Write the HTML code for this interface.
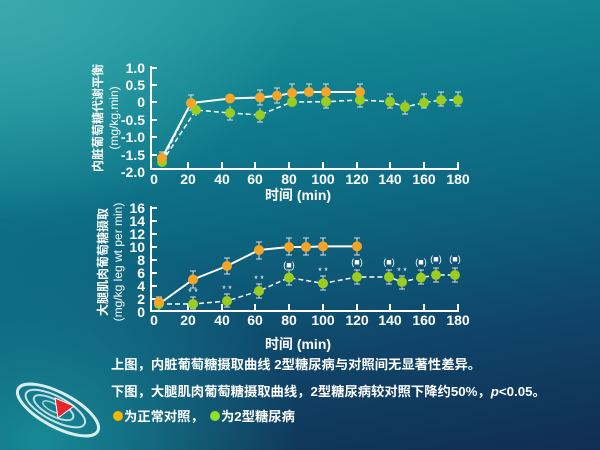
<!DOCTYPE html>
<html><head><meta charset="utf-8"><style>
html,body{margin:0;padding:0;}
body{width:600px;height:450px;overflow:hidden;position:relative;
background:radial-gradient(ellipse 260px 200px at 40px 440px,#168a96 0%,rgba(22,138,150,0) 100%),radial-gradient(ellipse 300px 220px at 0px 0px,#3aa9ad 0%,rgba(40,160,165,0) 100%),linear-gradient(170deg,#22999f 0%,#10808f 25%,#0d6580 50%,#0f4468 75%,#112d52 100%);
font-family:"Liberation Sans","Noto Sans CJK SC",sans-serif;}
svg{position:absolute;left:0;top:0;}
.t{fill:#fff;font-weight:bold;font-family:"Liberation Sans","Noto Sans CJK SC",sans-serif;}
</style></head><body>
<svg width="600" height="450" viewBox="0 0 600 450">
<g transform="translate(58,410) rotate(28)">
<ellipse cx="0" cy="0" rx="45" ry="17" fill="none" stroke="#d8eeee" stroke-width="3"/>
<ellipse cx="-3" cy="0" rx="33" ry="12" fill="none" stroke="#c8e4e6" stroke-width="2"/>
<ellipse cx="-5" cy="0" rx="22" ry="8" fill="none" stroke="#b8dcdf" stroke-width="2"/>
<ellipse cx="-6" cy="0" rx="11" ry="4" fill="none" stroke="#a8d4d8" stroke-width="1.5"/>
</g>
<polygon points="55,398 74,406 58,418" fill="#e8242c" stroke="#fff" stroke-width="1"/>

<g stroke="#fff" stroke-width="2" fill="none">
<line x1="151" y1="66" x2="151" y2="169"/>
<line x1="150" y1="169" x2="459" y2="169"/>
<line x1="151" y1="68" x2="157" y2="68"/><line x1="151" y1="85" x2="157" y2="85"/><line x1="151" y1="102" x2="157" y2="102"/><line x1="151" y1="120" x2="157" y2="120"/><line x1="151" y1="137" x2="157" y2="137"/><line x1="151" y1="155" x2="157" y2="155"/>
<line x1="188" y1="162" x2="188" y2="169"/><line x1="222" y1="162" x2="222" y2="169"/><line x1="255" y1="162" x2="255" y2="169"/><line x1="289" y1="162" x2="289" y2="169"/><line x1="323" y1="162" x2="323" y2="169"/><line x1="357" y1="162" x2="357" y2="169"/><line x1="390" y1="162" x2="390" y2="169"/><line x1="424" y1="162" x2="424" y2="169"/><line x1="458" y1="162" x2="458" y2="169"/>
</g>
<g class="t" font-size="14" text-anchor="end">
<text x="145" y="73">1.0</text><text x="145" y="90">0.5</text><text x="145" y="107">0</text><text x="145" y="125">-0.5</text><text x="145" y="142">-1.0</text><text x="145" y="160">-1.5</text><text x="145" y="177">-2.0</text>
</g>
<g class="t" font-size="14" text-anchor="middle">
<text x="154" y="184">0</text><text x="188" y="184">20</text><text x="222" y="184">40</text><text x="255" y="184">60</text><text x="289" y="184">80</text><text x="323" y="184">100</text><text x="357" y="184">120</text><text x="390" y="184">140</text><text x="424" y="184">160</text><text x="458" y="184">180</text>
<text x="298" y="200" font-size="14">时间 (min)</text>
</g>
<text class="t" font-size="12" text-anchor="middle" transform="translate(102,118) rotate(-90)">内脏葡萄糖代谢平衡</text>
<text class="t" font-size="12" text-anchor="middle" transform="translate(118,118) rotate(-90)" style="font-weight:normal">(mg/kg.min)</text>

<g stroke="#ddd" stroke-width="1">
<path d="M162,152v12M159,152h6M159,164h6 M191,95v15M188,95h6M188,110h6 M196,103v13 M230,106v14M227,120h6 M260,90v15M257,90h6M257,105h6 M260,108v14M257,122h6 M277,88v15M274,88h6M274,103h6 M292,84v14M289,84h6 M309,84v12M306,84h6 M326,84v12M323,84h6 M326,96v12M323,108h6 M360,84v16M357,84h6M357,100h6 M360,93v14M357,107h6 M390,94v14M387,94h6M387,108h6 M405,100v14M402,114h6 M424,94v14M421,94h6M421,108h6 M441,92v14M438,92h6M438,106h6 M458,92v14M455,92h6M455,106h6"/>
</g>
<polyline points="162,158 191,103 230,98.5 260,97.5 277,95.8 292,93 309,92 326,92 360,92" fill="none" stroke="#fff" stroke-width="2"/>
<polyline points="162,162 196,110 230,113 260,115 292,102 326,101.7 360,100 390,101.7 405,107 424,102.7 441,100 458,100" fill="none" stroke="#fff" stroke-width="1.5" stroke-dasharray="5,3"/>
<polyline points="162,162 191,103" fill="none" stroke="#fff" stroke-width="1" stroke-dasharray="4,3"/>
<g fill="#9acd1e">
<circle cx="162" cy="162" r="5"/><circle cx="196" cy="110" r="5"/><circle cx="230" cy="113" r="5"/><circle cx="260" cy="115" r="5"/><circle cx="292" cy="102" r="5"/><circle cx="326" cy="101.7" r="5"/><circle cx="360" cy="100" r="5"/><circle cx="390" cy="101.7" r="5"/><circle cx="405" cy="107" r="5"/><circle cx="424" cy="102.7" r="5"/><circle cx="441" cy="100" r="5"/><circle cx="458" cy="100" r="5"/>
</g>
<g fill="#f5a526">
<circle cx="162" cy="158" r="5"/><circle cx="191" cy="103" r="5"/><circle cx="230" cy="98.5" r="5"/><circle cx="260" cy="97.5" r="5"/><circle cx="277" cy="95.8" r="5"/><circle cx="292" cy="93" r="5"/><circle cx="309" cy="92" r="5"/><circle cx="326" cy="92" r="5"/><circle cx="360" cy="92" r="5"/>
</g>

<g stroke="#fff" stroke-width="2" fill="none">
<line x1="151" y1="206" x2="151" y2="311"/>
<line x1="150" y1="311" x2="459" y2="311"/>
<line x1="151" y1="208" x2="157" y2="208"/><line x1="151" y1="221" x2="157" y2="221"/><line x1="151" y1="234" x2="157" y2="234"/><line x1="151" y1="247" x2="157" y2="247"/><line x1="151" y1="260" x2="157" y2="260"/><line x1="151" y1="273" x2="157" y2="273"/><line x1="151" y1="286" x2="157" y2="286"/><line x1="151" y1="299" x2="157" y2="299"/>
<line x1="188" y1="304" x2="188" y2="311"/><line x1="222" y1="304" x2="222" y2="311"/><line x1="255" y1="304" x2="255" y2="311"/><line x1="289" y1="304" x2="289" y2="311"/><line x1="323" y1="304" x2="323" y2="311"/><line x1="357" y1="304" x2="357" y2="311"/><line x1="390" y1="304" x2="390" y2="311"/><line x1="424" y1="304" x2="424" y2="311"/><line x1="458" y1="304" x2="458" y2="311"/>
</g>
<g class="t" font-size="14" text-anchor="end">
<text x="145" y="213">16</text><text x="145" y="226">14</text><text x="145" y="239">12</text><text x="145" y="252">10</text><text x="145" y="265">8</text><text x="145" y="278">6</text><text x="145" y="291">4</text><text x="145" y="304">2</text><text x="145" y="317">0</text>
</g>
<g class="t" font-size="14" text-anchor="middle">
<text x="154" y="325">0</text><text x="188" y="325">20</text><text x="222" y="325">40</text><text x="255" y="325">60</text><text x="289" y="325">80</text><text x="323" y="325">100</text><text x="357" y="325">120</text><text x="390" y="325">140</text><text x="424" y="325">160</text><text x="458" y="325">180</text>
<text x="298" y="349">时间 (min)</text>
</g>
<text class="t" font-size="12" text-anchor="middle" transform="translate(107,262) rotate(-90)">大腿肌肉葡萄糖摄取</text>
<text class="t" font-size="12" text-anchor="middle" transform="translate(122,262) rotate(-90)" style="font-weight:normal">(mg/kg leg wt per min)</text>

<g stroke="#ddd" stroke-width="1">
<path d="M159,297v14M156,297h6 M193,271v17M190,271h6M190,288h6 M227,258v16M224,258h6M224,274h6 M259,242v17M256,242h6M256,259h6 M289,238v17M286,238h6M286,255h6 M306,238v17M303,238h6M303,255h6 M323,238v17M320,238h6M320,255h6 M357,238v17M354,238h6M354,255h6
M193,297v12M190,297h6M190,309h6 M227,294v13M224,294h6M224,307h6 M259,284v14M256,284h6M256,298h6 M289,270v15M286,270h6M286,285h6 M323,276v14M320,276h6M320,290h6 M357,270v14M354,270h6M354,284h6 M389,270v14M386,270h6M386,284h6 M402,276v13M399,276h6M399,289h6 M421,270v14M418,270h6M418,284h6 M436,268v14M433,268h6M433,282h6 M455,268v14M452,268h6M452,282h6"/>
</g>
<polyline points="159,304 193,279.5 227,266 259,250 289,247 306,247 323,246.4 357,246.4" fill="none" stroke="#fff" stroke-width="2"/>
<polyline points="159,304 193,304 227,301 259,291 289,277.6 323,283.4 357,277 389,277 402,282 421,277.6 436,275 455,275" fill="none" stroke="#fff" stroke-width="1.5" stroke-dasharray="5,3"/>
<g fill="#9acd1e">
<circle cx="159" cy="304" r="5"/><circle cx="193" cy="304" r="5"/><circle cx="227" cy="301" r="5"/><circle cx="259" cy="291" r="5"/><circle cx="289" cy="277.6" r="5"/><circle cx="323" cy="283.4" r="5"/><circle cx="357" cy="277" r="5"/><circle cx="389" cy="277" r="5"/><circle cx="402" cy="282" r="5"/><circle cx="421" cy="277.6" r="5"/><circle cx="436" cy="275" r="5"/><circle cx="455" cy="275" r="5"/>
</g>
<g fill="#f5a526">
<circle cx="159" cy="302" r="5"/><circle cx="193" cy="279.5" r="5"/><circle cx="227" cy="266" r="5"/><circle cx="259" cy="250" r="5"/><circle cx="289" cy="247" r="5"/><circle cx="306" cy="247" r="5"/><circle cx="323" cy="246.4" r="5"/><circle cx="357" cy="246.4" r="5"/>
</g>
<g fill="#fff" font-size="9" text-anchor="middle" font-family="Liberation Sans,sans-serif">
<text x="193" y="295">* *</text><text x="227" y="292">* *</text><text x="259" y="282">* *</text><text x="323" y="274">* *</text><text x="402" y="274">* *</text>
<text x="289" y="268">(■)</text><text x="357" y="265">(■)</text><text x="389" y="265">(■)</text><text x="421" y="265">(■)</text><text x="436" y="262">(■)</text><text x="455" y="262">(■)</text>
</g>

<g class="t" font-size="13.3">
<text x="111" y="369">上图，内脏葡萄糖摄取曲线 2型糖尿病与对照间无显著性差异。</text>
<text x="111" y="396">下图，大腿肌肉葡萄糖摄取曲线，2型糖尿病较对照下降约50%，<tspan font-style="italic">p</tspan>&lt;0.05。</text>
<text x="124" y="421">为正常对照，</text>
<text x="221" y="421">为2型糖尿病</text>
</g>
<circle cx="118" cy="416" r="5" fill="#f5b800"/>
<circle cx="215" cy="416" r="5" fill="#8fe02a"/>
</svg>
</body></html>
